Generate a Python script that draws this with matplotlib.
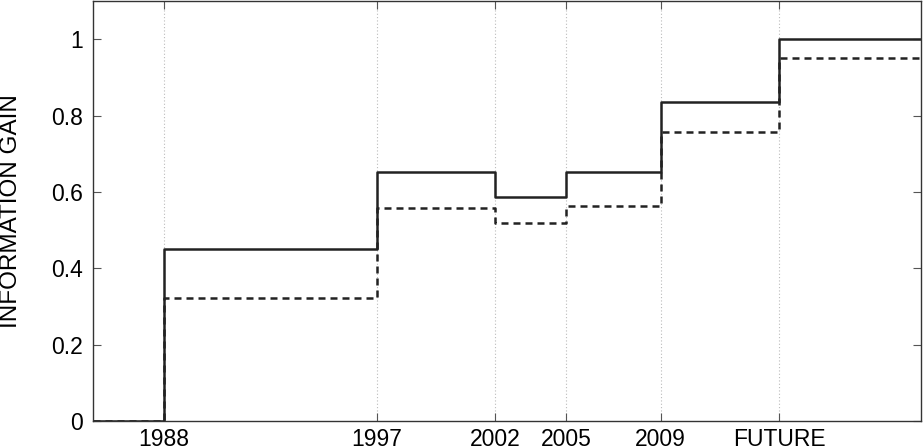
import matplotlib
matplotlib.use("Agg")
import matplotlib.pyplot as plt

# segment start years (last one is the right edge of the plot)
years = [1985, 1988, 1997, 2002, 2005, 2009, 2014, 2020]
solid_gain = [0.0, 0.45, 0.652, 0.587, 0.652, 0.835, 1.0]
dashed_gain = [0.0, 0.322, 0.557, 0.519, 0.564, 0.757, 0.95]
tick_years = [1988, 1997, 2002, 2005, 2009, 2014]
tick_labels = ["1988", "1997", "2002", "2005", "2009", "FUTURE"]

plt.rcParams["font.family"] = ["Liberation Sans", "DejaVu Sans"]

fig = plt.figure(figsize=(9.24, 4.48), dpi=100)
ax = fig.add_axes([93 / 924, 27 / 448, 828 / 924, 420 / 448])

ax.step(years, solid_gain + [solid_gain[-1]], where="post",
        color="#222222", lw=1.8, ls="-")
ax.step(years, dashed_gain + [dashed_gain[-1]], where="post",
        color="#222222", lw=1.8, ls=(0, (2.8, 2.0)))

ax.set_xlim(years[0], years[-1])
ax.set_ylim(0, 1.1)
ax.set_xticks(tick_years)
ax.set_xticklabels(tick_labels)
ax.set_yticks([0, 0.2, 0.4, 0.6, 0.8, 1])
ax.set_yticklabels(["0", "0.2", "0.4", "0.6", "0.8", "1"])
ax.set_ylabel("INFORMATION GAIN", fontsize=17.5)
ax.yaxis.set_label_coords(-0.086, 0.5)

ax.tick_params(direction="in", length=6, width=0.8, color="#555555",
               labelsize=16.5, top=True, right=True)
ax.tick_params(axis="x", pad=5)
ax.tick_params(axis="y", pad=7)
ax.grid(axis="x", ls=(0, (1, 2)), color="#bbbbbb", lw=0.8)
for s in ax.spines.values():
    s.set_color("#333333")
    s.set_linewidth(1.0)

fig.savefig("out.png", dpi=100)
